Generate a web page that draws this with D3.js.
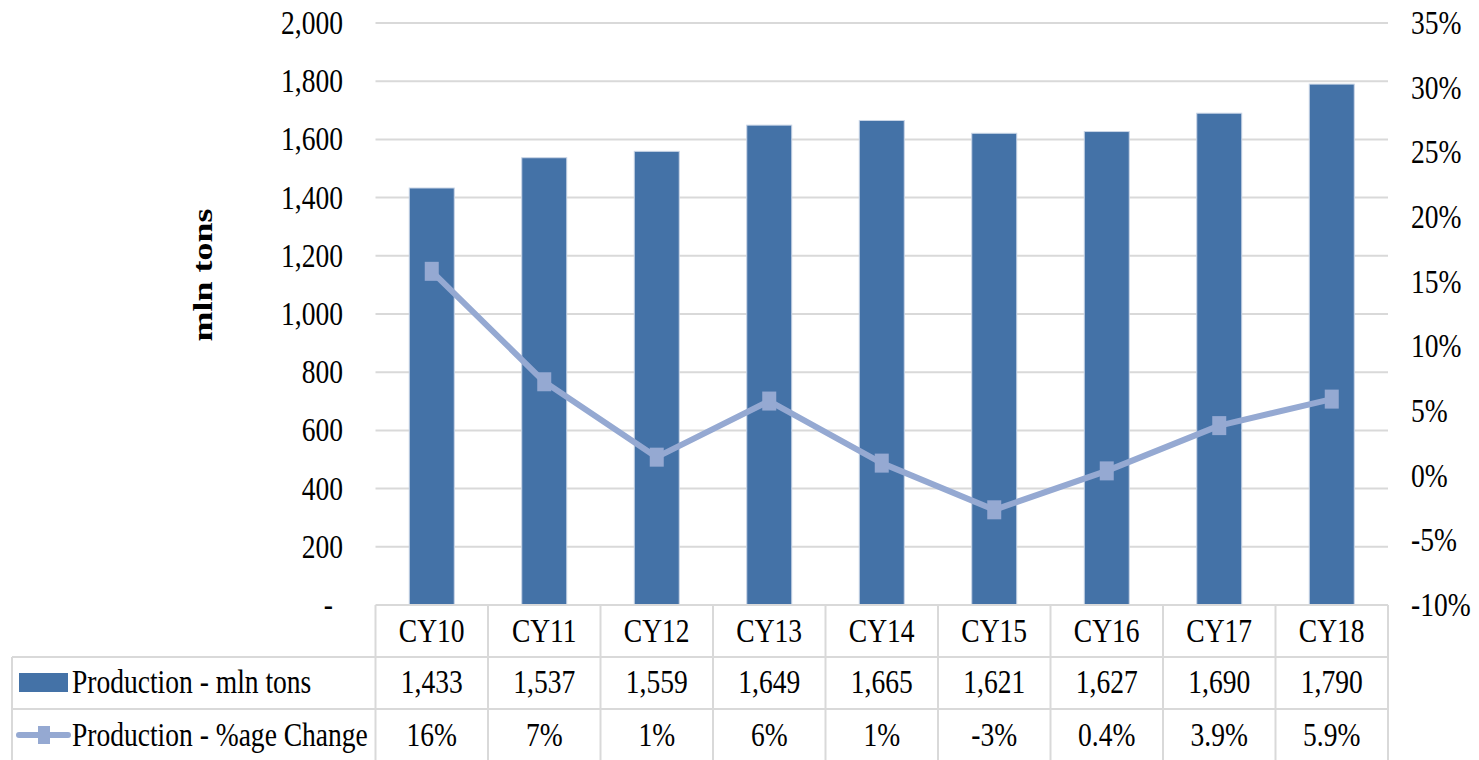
<!DOCTYPE html>
<html><head><meta charset="utf-8">
<script src="https://cdn.jsdelivr.net/npm/d3@7/dist/d3.min.js"></script>
<style>body{margin:0;background:#fff}svg text{font-family:"Liberation Serif","Times New Roman",serif;fill:#000}</style>
</head><body><svg id="c" width="1479" height="760"></svg>
<script>
const categories = ["CY10","CY11","CY12","CY13","CY14","CY15","CY16","CY17","CY18"];
const production = [1433,1537,1559,1649,1665,1621,1627,1690,1790];
const pctChange = [15.8,7.26,1.43,5.77,0.97,-2.64,0.37,3.87,5.92];
const pctLabels = ["16%","7%","1%","6%","1%","-3%","0.4%","3.9%","5.9%"];
const leftTicks = [0,200,400,600,800,1000,1200,1400,1600,1800,2000];
const rightTicks = [-10,-5,0,5,10,15,20,25,30,35];
const seriesNames = ["Production - mln tons","Production - %age Change"];

const SX = 0.81, FS = 34;
const svg = d3.select("#c");
const L = 375.5, R = 1388, T = 23, B = 605;
const x = d3.scaleBand().domain(categories).range([L,R]).paddingInner(0.6).paddingOuter(0.3);
const xc = d3.scaleBand().domain(categories).range([L,R]);
const y = d3.scaleLinear().domain([0,2000]).range([B,T]);
const y2 = d3.scaleLinear().domain([-10,35]).range([B,T]);
const grid = "#d9d9d9", barC = "#4472a7", lineC = "#95a9d2";

function txt(g, s, px, py, anchor, opts={}) {
  return g.append("text").attr("transform",`translate(${px},${py}) scale(${SX},1)`)
    .attr("text-anchor",anchor).attr("font-size",opts.fs||FS).attr("font-weight",opts.fw||"normal").text(s);
}

// gridlines
svg.append("g").selectAll("line").data(leftTicks.filter(d=>d>0)).join("line")
  .attr("x1",L).attr("x2",R).attr("y1",d=>y(d)).attr("y2",d=>y(d))
  .attr("stroke",grid).attr("stroke-width",2);

// left axis labels
const la = svg.append("g");
leftTicks.forEach(d=>{
  txt(la, d===0?"-":d3.format(",")(d), d===0?333:343, y(d)+11, "end");
});
// right axis labels
const ra = svg.append("g");
rightTicks.forEach(d=>{ txt(ra, d+"%", 1411, y2(d)+11, "start"); });

// y title
svg.append("text").attr("transform",`translate(212,275) scale(0.78,1) rotate(-90)`)
  .attr("text-anchor","middle").attr("font-size",36).attr("font-weight","bold").text("mln tons");

// bars
svg.append("g").selectAll("rect").data(production).join("rect")
  .attr("x",(d,i)=>x(categories[i])).attr("width",x.bandwidth())
  .attr("y",d=>y(d)).attr("height",d=>B-y(d))
  .attr("fill",barC).attr("stroke","#c9d5e6").attr("stroke-width",1);

// line
const cx = i => xc(categories[i]) + xc.bandwidth()/2;
svg.append("path").datum(pctChange)
  .attr("d", d3.line().x((d,i)=>cx(i)).y(d=>y2(d)))
  .attr("fill","none").attr("stroke",lineC).attr("stroke-width",6).attr("stroke-linejoin","round");
svg.append("g").selectAll("rect").data(pctChange).join("rect")
  .attr("x",(d,i)=>cx(i)-7).attr("y",d=>y2(d)-9.5).attr("width",14).attr("height",19).attr("fill",lineC);

// table
const tb = svg.append("g");
const r1 = 657, r2 = 709, r3 = 762;
tb.append("line").attr("x1",L).attr("x2",R).attr("y1",B).attr("y2",B).attr("stroke",grid).attr("stroke-width",2);
[r1,r2].forEach(v=>tb.append("line").attr("x1",12).attr("x2",R).attr("y1",v).attr("y2",v).attr("stroke",grid).attr("stroke-width",2));
tb.append("line").attr("x1",12).attr("x2",12).attr("y1",r1).attr("y2",r3).attr("stroke",grid).attr("stroke-width",2);
categories.concat(["end"]).forEach((c,i)=>{
  const xv = i<categories.length ? xc(c) : R;
  tb.append("line").attr("x1",xv).attr("x2",xv).attr("y1",B).attr("y2",r3).attr("stroke",grid).attr("stroke-width",2);
});
categories.forEach((c,i)=>{
  txt(tb, c, cx(i), 642, "middle");
  txt(tb, d3.format(",")(production[i]), cx(i), 693, "middle");
  txt(tb, pctLabels[i], cx(i), 746, "middle");
});
// legend keys
tb.append("rect").attr("x",19).attr("y",673).attr("width",49).attr("height",19).attr("fill",barC);
tb.append("line").attr("x1",19).attr("x2",68).attr("y1",735).attr("y2",735).attr("stroke",lineC).attr("stroke-width",6).attr("stroke-linecap","round");
tb.append("rect").attr("x",38).attr("y",726).attr("width",12).attr("height",18).attr("fill",lineC);
txt(tb, seriesNames[0], 72, 693, "start");
txt(tb, seriesNames[1], 72, 746, "start");
</script></body></html>
